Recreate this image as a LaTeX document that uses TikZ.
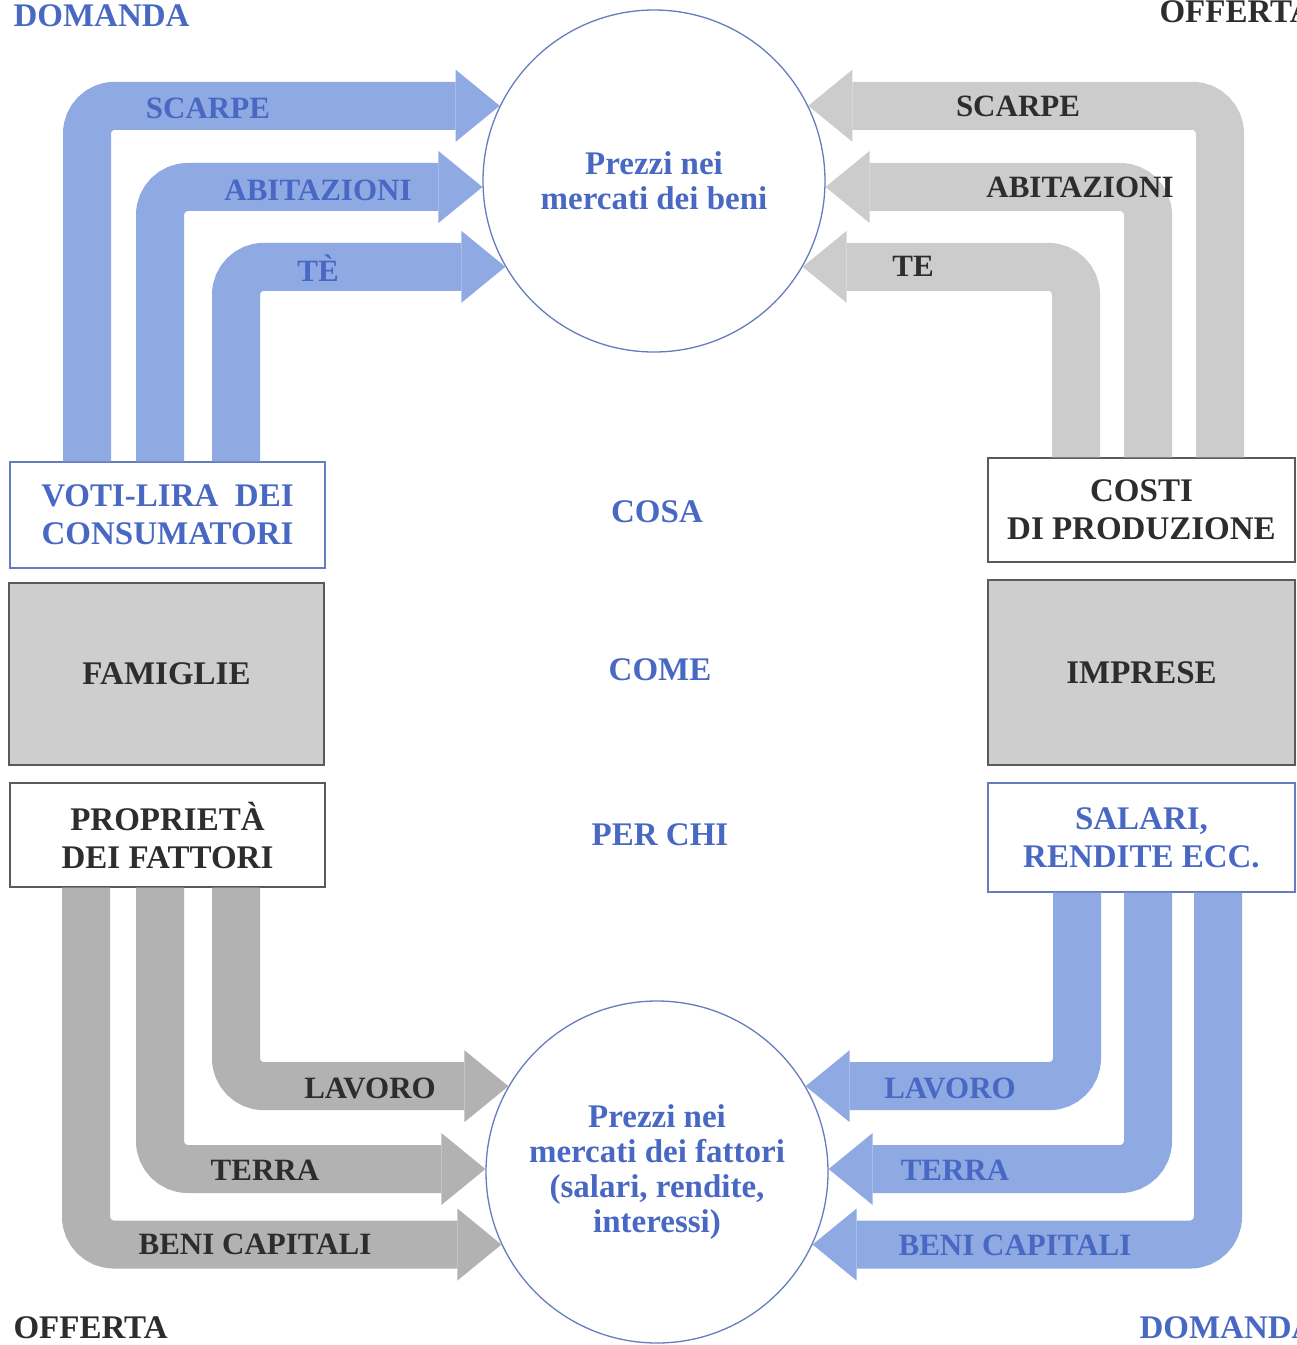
\documentclass[tikz,border=0pt]{standalone}
\usepackage{fontspec}
\setmainfont{Liberation Serif}
\usetikzlibrary{calc}

\definecolor{bandblue}{RGB}{143,170,226}
\definecolor{bandgray}{RGB}{204,204,204}
\definecolor{bandgraydk}{RGB}{178,178,178}
\definecolor{boxgray}{RGB}{206,206,206}
\definecolor{inkblue}{RGB}{72,104,196}
\definecolor{inkdark}{RGB}{45,45,45}
\definecolor{lineblue}{RGB}{100,125,190}
\definecolor{linegray}{RGB}{90,90,90}

\begin{document}
\begin{tikzpicture}[x=1pt,y=-1pt]
      \tikzstyle{big}=[font=\fontsize{33}{38}\selectfont\bfseries]
      \tikzstyle{box}=[big, draw, line width=1.3pt, inner sep=0pt, align=center, minimum width=315pt]
      \tikzstyle{market}=[circle, draw=lineblue, line width=1.3pt, minimum size=342pt, inner sep=0pt, align=center, text=inkblue, font=\fontsize{33}{35}\selectfont\bfseries]
      \tikzstyle{band}=[line width=48pt, rounded corners=28pt]
      \tikzstyle{bandlabel}=[font=\fontsize{31}{34}\selectfont\bfseries, inner sep=0pt]

      \useasboundingbox (0,0) rectangle (1297,1345);

      % corner words
      \node [big, text=inkblue, anchor=west] (domL) at (10,16) {DOMANDA};
      \node [big, text=inkdark, anchor=west] (offR) at (1156,12) {OFFERTA};
      \node [big, text=inkdark, anchor=west] (offL) at (10,1328) {OFFERTA};
      \node [big, text=inkblue, anchor=west] (domR) at (1136,1328) {DOMANDA};

      % the two markets
      \node [market] (goods) at (654,181) {Prezzi nei\\mercati dei beni};
      \node [market] (factors) at (657,1172) {Prezzi nei\\mercati dei fattori\\(salari, rendite,\\interessi)};

      % households
      \node [box, draw=lineblue, text=inkblue, minimum height=106pt] (voti) at (167.5,515) {VOTI-LIRA \ DEI\\CONSUMATORI};
      \node [box, draw=linegray, fill=boxgray, text=inkdark, minimum height=182pt] (famiglie) at (166.5,674) {FAMIGLIE};
      \node [box, draw=linegray, text=inkdark, minimum height=104pt] (proprieta) at (167.5,835) {PROPRIETÀ\\DEI FATTORI};

      % firms
      \node [box, draw=linegray, text=inkdark, minimum width=307pt, minimum height=104pt] (costi) at (1141.5,510) {COSTI\\DI PRODUZIONE};
      \node [box, draw=linegray, fill=boxgray, text=inkdark, minimum width=307pt, minimum height=185pt] (imprese) at (1141.5,672.5) {IMPRESE};
      \node [box, draw=lineblue, text=inkblue, minimum width=307pt, minimum height=109pt] (salari) at (1141.5,837.5) {SALARI,\\RENDITE ECC.};

      % the three questions
      \node [big, text=inkblue] (cosa) at (657,512) {COSA};
      \node [big, text=inkblue] (come) at (660,670) {COME};
      \node [big, text=inkblue] (perchi) at (660,835) {PER CHI};

      % consumer demand for goods
      \draw [band, bandblue] ([xshift=-80.5pt]voti.north) |- ([xshift=-44pt]goods.154);
      \draw [band, bandblue] ([xshift=-7.5pt]voti.north) |- ([xshift=-44pt]goods.182);
      \draw [band, bandblue] ([xshift=68.5pt]voti.north) |- ([xshift=-44pt]goods.210);
      \fill [bandblue] (goods.154) -- ++(-44,-36) -- ++(0,72) -- cycle;
      \fill [bandblue] (goods.182) -- ++(-44,-36) -- ++(0,72) -- cycle;
      \fill [bandblue] (goods.210) -- ++(-44,-36) -- ++(0,72) -- cycle;
      \node [bandlabel, text=inkblue] (dScarpe) at (208,108) {SCARPE};
      \node [bandlabel, text=inkblue] (dAbit) at (318,190) {ABITAZIONI};
      \node [bandlabel, text=inkblue] (dTe) at (318,268) {TÈ};

      % supply of goods by firms
      \draw [band, bandgray] ([xshift=78.5pt]costi.north) |- ([xshift=44pt]goods.26);
      \draw [band, bandgray] ([xshift=6.5pt]costi.north) |- ([xshift=44pt]goods.358);
      \draw [band, bandgray] ([xshift=-65.5pt]costi.north) |- ([xshift=44pt]goods.330);
      \fill [bandgray] (goods.26) -- ++(44,-36) -- ++(0,72) -- cycle;
      \fill [bandgray] (goods.358) -- ++(44,-36) -- ++(0,72) -- cycle;
      \fill [bandgray] (goods.330) -- ++(44,-36) -- ++(0,72) -- cycle;
      \node [bandlabel, text=inkdark] (sScarpe) at (1018,106) {SCARPE};
      \node [bandlabel, text=inkdark] (sAbit) at (1080,187) {ABITAZIONI};
      \node [bandlabel, text=inkdark] (sTe) at (913,266) {TE};

      % supply of factors by households
      \draw [band, bandgraydk] ([xshift=68.5pt]proprieta.south) |- ([xshift=-44pt]factors.150);
      \draw [band, bandgraydk] ([xshift=-7.5pt]proprieta.south) |- ([xshift=-44pt]factors.179);
      \draw [band, bandgraydk] ([xshift=-81.5pt]proprieta.south) |- ([xshift=-44pt]factors.205);
      \fill [bandgraydk] (factors.150) -- ++(-44,-36) -- ++(0,72) -- cycle;
      \fill [bandgraydk] (factors.179) -- ++(-44,-36) -- ++(0,72) -- cycle;
      \fill [bandgraydk] (factors.205) -- ++(-44,-36) -- ++(0,72) -- cycle;
      \node [bandlabel, text=inkdark] (sLavoro) at (370,1088) {LAVORO};
      \node [bandlabel, text=inkdark] (sTerra) at (265,1170) {TERRA};
      \node [bandlabel, text=inkdark] (sBeni) at (255,1244) {BENI CAPITALI};

      % firms' demand for factors
      \draw [band, bandblue] ([xshift=-64.5pt]salari.south) |- ([xshift=44pt]factors.30);
      \draw [band, bandblue] ([xshift=6.5pt]salari.south) |- ([xshift=44pt]factors.1);
      \draw [band, bandblue] ([xshift=76.5pt]salari.south) |- ([xshift=44pt]factors.335);
      \fill [bandblue] (factors.30) -- ++(44,-36) -- ++(0,72) -- cycle;
      \fill [bandblue] (factors.1) -- ++(44,-36) -- ++(0,72) -- cycle;
      \fill [bandblue] (factors.335) -- ++(44,-36) -- ++(0,72) -- cycle;
      \node [bandlabel, text=inkblue] (dLavoro) at (950,1088) {LAVORO};
      \node [bandlabel, text=inkblue] (dTerra) at (955,1170) {TERRA};
      \node [bandlabel, text=inkblue] (dBeni) at (1015,1245) {BENI CAPITALI};

\end{tikzpicture}
\end{document}
